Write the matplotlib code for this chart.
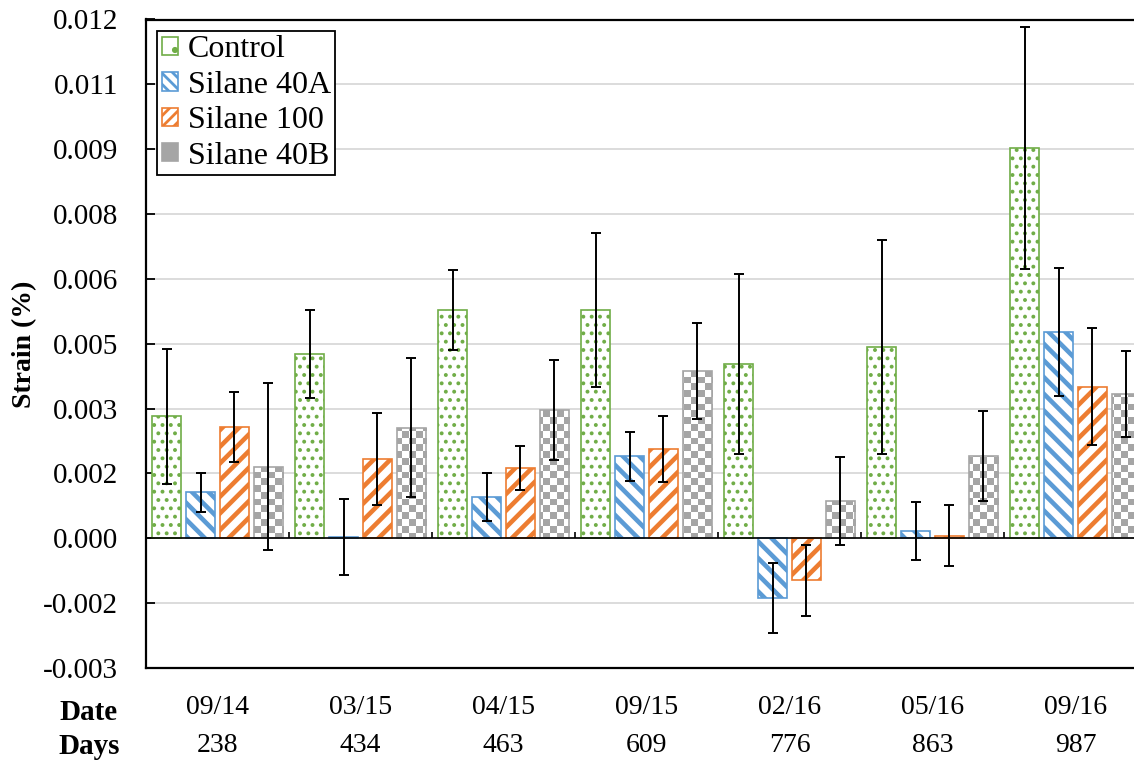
import numpy as np
import matplotlib
matplotlib.use("Agg")
import matplotlib.pyplot as plt
from matplotlib.colors import ListedColormap
from matplotlib.patches import Patch
from matplotlib import transforms

# strain readings per monitoring date
dates = ["09/14", "03/15", "04/15", "09/15", "02/16", "05/16", "09/16"]
days = ["238", "434", "463", "609", "776", "863", "987"]
series = ["Control", "Silane 40A", "Silane 100", "Silane 40B"]

control = [0.00282, 0.00427, 0.00528, 0.00529, 0.00403, 0.00442, 0.00903]
silane_40a = [0.00106, 0.00003, 0.00095, 0.00190, -0.00138, 0.00017, 0.00477]
silane_100 = [0.00258, 0.00183, 0.00162, 0.00206, -0.00097, 0.00006, 0.00351]
silane_40b = [0.00166, 0.00256, 0.00297, 0.00387, 0.00087, 0.00190, 0.00334]

control_err = [0.00156, 0.00102, 0.00093, 0.00178, 0.00209, 0.00248, 0.00279]
silane_40a_err = [0.00046, 0.00087, 0.00056, 0.00057, 0.00080, 0.00068, 0.00148]
silane_100_err = [0.00081, 0.00107, 0.00051, 0.00076, 0.00082, 0.00071, 0.00135]
silane_40b_err = [0.00194, 0.00160, 0.00116, 0.00111, 0.00102, 0.00104, 0.00100]

ytick_vals = [-0.003, -0.0015, 0.0, 0.0015, 0.003, 0.0045, 0.006, 0.0075, 0.009, 0.0105, 0.012]
ytick_labels = ["-0.003", "-0.002", "0.000", "0.002", "0.003", "0.005",
                "0.006", "0.008", "0.009", "0.011", "0.012"]

plt.rcParams["font.family"] = ["Liberation Serif", "DejaVu Serif"]
plt.rcParams["font.size"] = 21

fig = plt.figure(figsize=(11.34, 7.61), dpi=100)
ax = fig.add_axes([146 / 1134, 93 / 761, 1001 / 1134, 648.5 / 761])

x = np.arange(len(dates))
pitch = 0.236
width = 0.203

values = [control, silane_40a, silane_100, silane_40b]
errors = [control_err, silane_40a_err, silane_100_err, silane_40b_err]
colors = ["#70ad47", "#5b9bd5", "#ed7d31", "#a5a5a5"]
hatches = ["..", "\\\\", "//", None]
hatch_lw = [1.6, 3.3, 3.3, 1.0]

ax.set_xlim(-0.5, len(dates) - 0.5)
ax.set_ylim(-0.003, 0.012)

gray_bars = []
for i, (vals, errs) in enumerate(zip(values, errors)):
    pos = x + (i - 1.5) * pitch
    plt.rcParams["hatch.linewidth"] = hatch_lw[i]
    face = "white" if i < 3 else "none"
    bars = ax.bar(pos, vals, width, facecolor=face, edgecolor=colors[i],
                  linewidth=1.2, hatch=hatches[i], zorder=2)
    for b in bars:
        if hasattr(b, "set_hatch_linewidth"):
            b.set_hatch_linewidth(hatch_lw[i])
    if i == 3:
        gray_bars = list(bars)
    ax.errorbar(pos, vals, yerr=errs, fmt="none", ecolor="black",
                elinewidth=1.4, capsize=3.8, capthick=1.4, zorder=4)

# checkerboard fill for the Silane 40B bars, clipped to each bar
cell_px = 6.7
ncols = int(1001 / cell_px)
nrows = int(648.5 / cell_px)
checker = np.indices((nrows, ncols)).sum(axis=0) % 2
checker_cmap = ListedColormap(["white", "#a5a5a5"])
for b in gray_bars:
    im = ax.imshow(checker, cmap=checker_cmap, interpolation="nearest",
                   extent=(-0.5, len(dates) - 0.5, -0.003, 0.012),
                   aspect="auto", zorder=1.5)
    im.set_clip_path(b)

ax.set_xlim(-0.5, len(dates) - 0.5)
ax.set_ylim(-0.003, 0.012)

# horizontal category axis through zero with boundary tick marks
ax.axhline(0, color="black", linewidth=1.2, zorder=3)
ax.vlines(x[:-1] + 0.5, 0, 0.00015, color="black", linewidth=1.2, zorder=3)

ax.set_yticks(ytick_vals)
ax.set_yticklabels(ytick_labels)
ax.yaxis.grid(True, color="#d9d9d9", linewidth=1.3)
ax.set_axisbelow(True)
ax.tick_params(axis="y", direction="in", length=6.5, width=1.3, pad=20)
ax.set_xticks([])

for s in ax.spines.values():
    s.set_linewidth(1.6)

trans = transforms.blended_transform_factory(ax.transData, ax.transAxes)
for xi, d, n in zip(x, dates, days):
    ax.text(xi, -40 / 648.5, d, transform=trans, ha="center", va="center",
            fontsize=20)
    ax.text(xi, -78 / 648.5, n, transform=trans, ha="center", va="center",
            fontsize=20)

fig.text(89 / 1134, 1 - 712 / 761, "Date", ha="center", va="center",
         fontsize=21, fontweight="bold")
fig.text(89 / 1134, 1 - 746 / 761, "Days", ha="center", va="center",
         fontsize=21, fontweight="bold")
fig.text(25 / 1134, 1 - 344 / 761, "Strain (%)", ha="center", va="center",
         rotation=90, fontsize=20, fontweight="bold")

plt.rcParams["hatch.linewidth"] = 2.0
handles = [
    Patch(facecolor="white", edgecolor=colors[0], hatch=".", linewidth=1.2),
    Patch(facecolor="white", edgecolor=colors[1], hatch="\\\\\\", linewidth=1.2),
    Patch(facecolor="white", edgecolor=colors[2], hatch="///", linewidth=1.2),
    Patch(facecolor=colors[3], edgecolor=colors[3], linewidth=1.2),
]
leg = ax.legend(handles, series, loc="upper left", fancybox=False,
                edgecolor="black", framealpha=1, handlelength=0.5,
                handleheight=0.5, handletextpad=0.3, labelspacing=0.2,
                borderpad=0.15, borderaxespad=0.35, fontsize=23)
leg.get_frame().set_linewidth(1.3)

fig.savefig("out.png", dpi=100)
